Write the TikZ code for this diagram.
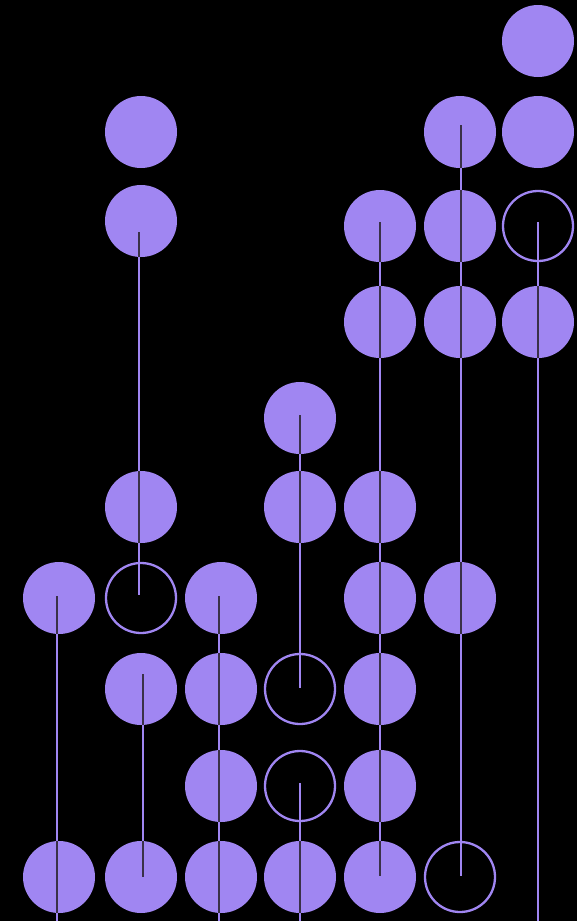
\documentclass[tikz,border=0pt]{standalone}
\definecolor{violet}{HTML}{A086F2}
\definecolor{inkline}{HTML}{3A3148}
\tikzset{
  dot/.style={circle,fill=violet,draw=none,minimum size=72pt,inner sep=0pt},
  ring/.style={circle,draw=violet,line width=2.3pt,minimum size=70pt,inner sep=0pt},
  stem/.style={draw=violet,line width=2.3pt},
  stemdark/.style={draw=inkline,line width=2.3pt}
}
\begin{document}
\begin{tikzpicture}[x=1pt,y=-1pt]
\fill[black] (0,0) rectangle (577,921);
\useasboundingbox (0,0) rectangle (577,921);
% filled circles
\foreach \n/\x/\y in {f1/538/41, f2/141/132, f3/460/132, f4/538/132, f5/141/221,
  f6/380/226, f7/460/226, f8/380/322, f9/460/322, f10/538/322, f11/300/418,
  f12/141/507, f13/300/507, f14/380/507, f15/59/598, f16/221/598, f17/380/598,
  f18/460/598, f19/141/689, f20/221/689, f21/380/689, f22/221/786, f23/380/786,
  f24/59/877, f25/141/877, f26/221/877, f27/300/877, f28/380/877}
  {\node[dot] (\n) at (\x,\y) {};}
% hollow circles
\foreach \n/\x/\y in {h1/538/226, h2/141/598, h3/300/689, h4/300/786, h5/460/877}
  {\node[ring] (\n) at (\x,\y) {};}
% stem end points
\coordinate (a1) at (57,596);  \coordinate (b1) at (57,921);
\coordinate (a2) at (139,232); \coordinate (b2) at (139,595);
\coordinate (a3) at (143,674); \coordinate (b3) at (143,877);
\coordinate (a4) at (219,596); \coordinate (b4) at (219,921);
\coordinate (a5) at (300,415); \coordinate (b5) at (300,688);
\coordinate (a6) at (300,783); \coordinate (b6) at (300,921);
\coordinate (a7) at (380,222); \coordinate (b7) at (380,876);
\coordinate (a8) at (461,125); \coordinate (b8) at (461,876);
\coordinate (a9) at (538,222); \coordinate (b9) at (538,921);
\foreach \i in {1,...,9} {\draw[stem] (a\i) -- (b\i);}
\begin{scope}
  \clip \foreach \i in {1,...,28} {(f\i.center) circle (36)};
  \foreach \i in {1,...,9} {\draw[stemdark] (a\i) -- (b\i);}
\end{scope}
\end{tikzpicture}
\end{document}
